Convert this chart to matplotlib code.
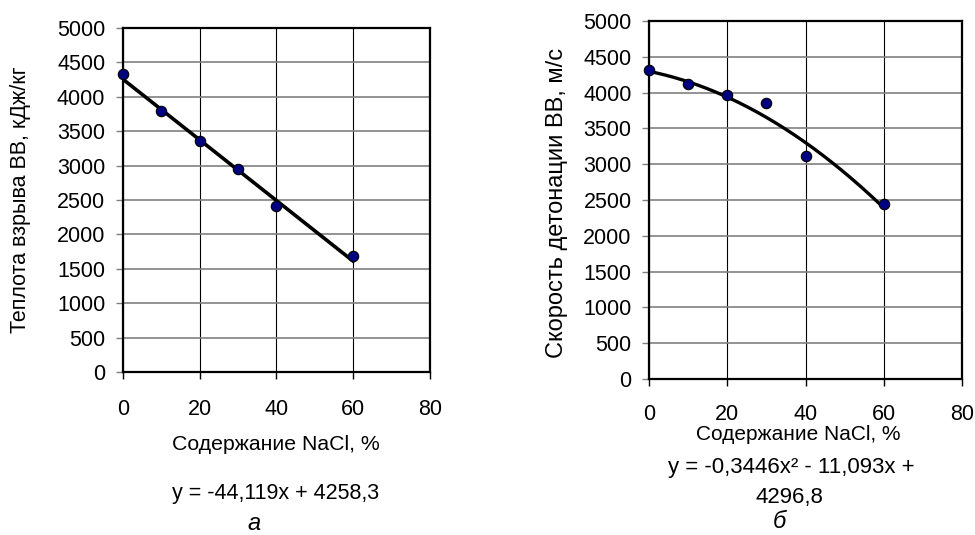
import numpy as np
import matplotlib
matplotlib.use('Agg')
import matplotlib.pyplot as plt

plt.rcParams['font.family'] = ['Liberation Sans', 'DejaVu Sans']

# данные
nacl = [0, 10, 20, 30, 40, 60]
heat = [4330, 3800, 3360, 2950, 2420, 1690]
speed = [4320, 4120, 3960, 3860, 3120, 2450]

# коэффициенты линий тренда (как подписано на графиках)
heat_fit = [-44.119, 4258.3]
speed_fit = [-0.3446, -11.093, 4296.8]

xticks = [0, 20, 40, 60, 80]
yticks = list(range(0, 5001, 500))

W, H = 975.0, 535.0
fig = plt.figure(figsize=(9.75, 5.35), dpi=100)
ax1 = fig.add_axes([122.7 / W, 1 - 372 / H, (430 - 122.7) / W, (372 - 28) / H])
ax2 = fig.add_axes([649 / W, 1 - 379 / H, (962 - 649) / W, (379 - 21) / H])


def style(ax, xpad):
    ax.set_xlim(0, 80)
    ax.set_ylim(0, 5000)
    ax.set_xticks(xticks)
    ax.set_yticks(yticks)
    ax.grid(True, axis='y', color='#808080', lw=1.2)
    ax.grid(True, axis='x', color='black', lw=0.8)
    ax.set_axisbelow(True)
    for s in ax.spines.values():
        s.set_linewidth(1.6)
        s.set_color('black')
    ax.tick_params(axis='both', direction='out', length=5, width=1, labelsize=15.5)
    ax.tick_params(axis='y', color='#808080', pad=7.5)
    ax.tick_params(axis='x', pad=xpad)


xx = np.linspace(0, 60, 200)

style(ax1, 14.5)
ax1.plot(xx, np.polyval(heat_fit, xx), color='black', lw=2.6, zorder=3)
ax1.plot(nacl, heat, 'o', ms=7.5, mfc='#000080', mec='black', mew=0.8, zorder=4, clip_on=False)
ax1.set_ylabel('Теплота взрыва ВВ, кДж/кг', fontsize=15.5)
ax1.yaxis.set_label_coords(21 / W, 1 - 200 / H, transform=fig.transFigure)

style(ax2, 13)
ax2.plot(xx, np.polyval(speed_fit, xx), color='black', lw=2.4, zorder=3)
ax2.plot(nacl, speed, 'o', ms=7.5, mfc='#000080', mec='black', mew=0.8, zorder=4, clip_on=False)
ax2.set_ylabel('Скорость детонации ВВ, м/с', fontsize=17)
ax2.yaxis.set_label_coords(557 / W, 1 - 203 / H, transform=fig.transFigure)
for lab in (ax1.yaxis.label, ax2.yaxis.label):
    lab.set_va('center')

fig.text(276 / W, 1 - 444 / H, 'Содержание NaCl, %', ha='center', va='center', fontsize=15.3)
fig.text(276 / W, 1 - 494 / H, 'y = -44,119x + 4258,3', ha='center', va='center', fontsize=15.5)
fig.text(254 / W, 1 - 524 / H, 'а', ha='center', va='center', fontsize=17, style='italic')

fig.text(798 / W, 1 - 434 / H, 'Содержание NaCl, %', ha='center', va='center', fontsize=15)
fig.text(791 / W, 1 - 468 / H, 'y = -0,3446x² - 11,093x +', ha='center', va='center', fontsize=16)
fig.text(789 / W, 1 - 498 / H, '4296,8', ha='center', va='center', fontsize=16)
fig.text(779 / W, 1 - 521 / H, 'б', ha='center', va='center', fontsize=17, style='italic')

fig.savefig('out.png', dpi=100)
